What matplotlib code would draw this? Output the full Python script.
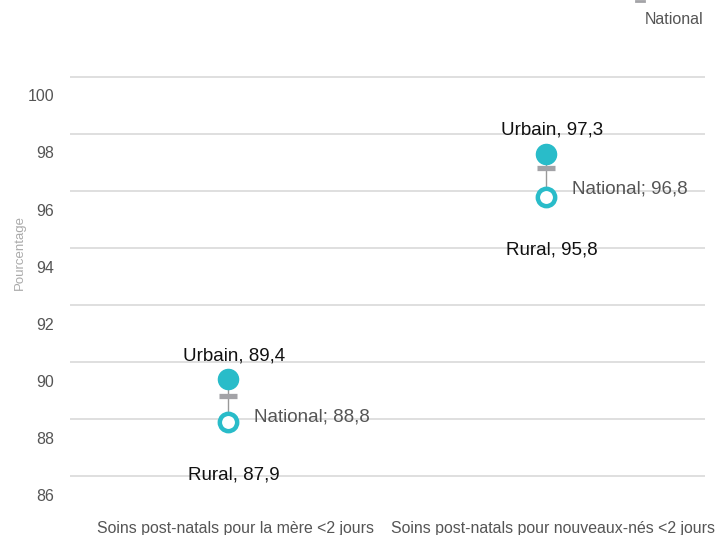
import matplotlib
matplotlib.use("Agg")
import matplotlib.pyplot as plt
import matplotlib.transforms as mtransforms
from matplotlib.lines import Line2D

# Data
categories = ['Soins post-natals pour la mère <2 jours',
              'Soins post-natals pour nouveaux-nés <2 jours']
urbain = [89.4, 97.3]
national = [88.8, 96.8]
rural = [87.9, 95.8]
yticks = [86, 88, 90, 92, 94, 96, 98, 100]

teal = '#29bcc9'
grey = '#a3a3a7'

plt.rcParams['font.family'] = ['Liberation Sans', 'DejaVu Sans']

fig = plt.figure(figsize=(7.19, 5.35), dpi=100)
ax = fig.add_axes([70 / 719, 35 / 535, 635 / 719, 440 / 535])
ax.set_xlim(-0.497, 1.5)
ax.set_ylim(85.16, 100.596)

# grid
for v in yticks:
    ax.axhline(v, color='#dcdcdc', lw=1.3, zorder=0)
for s in ax.spines.values():
    s.set_visible(False)
ax.set_xticks([])
ax.set_yticks([])

# y tick labels, drawn a bit below their gridline
off = mtransforms.ScaledTranslation(0, -0.20, fig.dpi_scale_trans)
trans = mtransforms.blended_transform_factory(ax.transAxes, ax.transData) + off
for v in yticks:
    ax.text(-0.025, v, str(v), transform=trans, ha='right', va='center',
            fontsize=11.5, color='#555555')

fig.text(20 / 719, 1 - 252 / 535, 'Pourcentage', rotation=90, ha='center',
         va='center', fontsize=9.5, color='#aaaaaa')

xs = list(range(len(categories)))
for i in xs:
    ax.plot([i, i], [urbain[i], rural[i]], color='#999999', lw=1, zorder=1)
ax.plot(xs, urbain, 'o', ms=14.5, color=teal, mec=teal, zorder=3)
ax.plot(xs, rural, 'o', ms=12.5, mfc='white', mec=teal, mew=3.2, zorder=3)
ax.plot(xs, national, '_', ms=13, mew=3.8, color=grey, zorder=2)

for i in xs:
    ax.annotate('Urbain, ' + f'{urbain[i]:.1f}'.replace('.', ','),
                (i, urbain[i]), xytext=(4, 17), textcoords='offset points',
                ha='center', va='center', fontsize=13.5, color='#111111')
    ax.annotate('National; ' + f'{national[i]:.1f}'.replace('.', ','),
                (i, national[i]), xytext=(19, -15), textcoords='offset points',
                ha='left', va='center', fontsize=13.5, color='#555555')
    ax.annotate('Rural, ' + f'{rural[i]:.1f}'.replace('.', ','),
                (i, rural[i]), xytext=(4, -38.5), textcoords='offset points',
                ha='center', va='center', fontsize=13.5, color='#111111')
    ax.text(i + 0.022, 85.16, categories[i], ha='center', va='center',
            transform=ax.transData + mtransforms.ScaledTranslation(0, -0.29, fig.dpi_scale_trans),
            fontsize=11.4, color='#555555')

# legend (partly off the top)
fig.add_artist(Line2D([636 / 719, 644 / 719], [1 - 0.5 / 535, 1 - 0.5 / 535],
                      color=grey, lw=2, transform=fig.transFigure))
fig.text(703 / 719, 1 - 19 / 535, 'National', ha='right', va='center',
         fontsize=11.5, color='#555555')

fig.savefig('out.png', dpi=100)
